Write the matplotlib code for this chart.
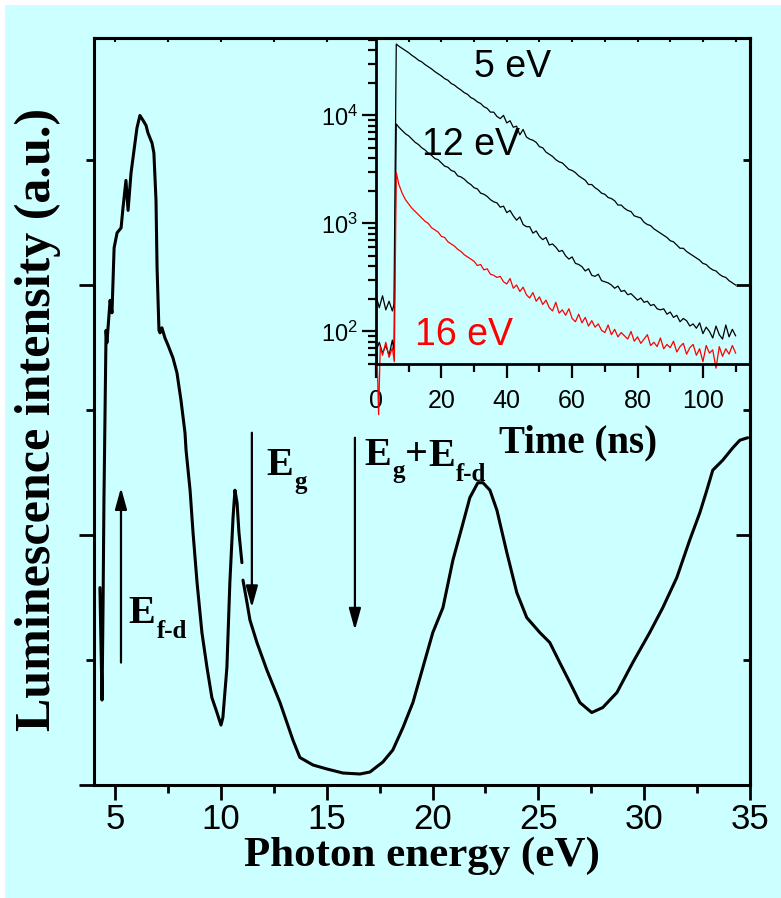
import numpy as np
import matplotlib
matplotlib.use('Agg')
import matplotlib.pyplot as plt
from matplotlib.patches import Rectangle
from matplotlib.ticker import NullFormatter, LogLocator

plt.rcParams['font.family'] = ['Liberation Sans', 'DejaVu Sans']
plt.rcParams['mathtext.fontset'] = 'custom'
plt.rcParams['mathtext.rm'] = 'Liberation Sans'

W, H = 781, 898

# ---------------- main spectrum (photon energy, eV / intensity, a.u.) ----------------
energy_a = [4.28, 4.38, 4.43, 4.47, 4.57, 4.61, 4.76, 4.85, 4.95, 5.09, 5.28, 5.37,
            5.51, 5.61, 5.75, 5.89, 6.03, 6.17, 6.32, 6.46, 6.55, 6.74, 6.83, 6.93,
            6.98, 7.07, 7.12, 7.21, 7.35, 7.50, 7.73, 7.92, 8.11, 8.30, 8.35, 8.54,
            8.68, 8.87, 9.10, 9.34, 9.57, 9.81, 10.00, 10.09, 10.28, 10.42, 10.57,
            10.66, 10.76, 10.85, 10.99]
intensity_a = [0.79, 0.34, 0.74, 1.14, 1.82, 1.77, 1.94, 1.89, 2.15, 2.21, 2.23, 2.31,
               2.42, 2.30, 2.45, 2.54, 2.63, 2.68, 2.66, 2.64, 2.61, 2.57, 2.53, 2.34,
               2.07, 1.82, 1.81, 1.83, 1.79, 1.76, 1.71, 1.65, 1.54, 1.41, 1.34, 1.18,
               1.01, 0.81, 0.61, 0.47, 0.35, 0.29, 0.24, 0.27, 0.47, 0.81, 1.07,
               1.18, 1.13, 1.01, 0.89]
energy_b = [11.04, 11.23, 11.37, 11.70, 12.17, 12.79, 13.40, 13.73, 14.35, 15.01,
            15.76, 16.57, 17.04, 17.65, 18.12, 18.60, 19.07, 20.01, 20.49, 20.96,
            21.38, 21.76, 22.14, 22.38, 22.71, 23.04, 23.51, 23.98, 24.45, 25.07,
            25.54, 26.01, 26.49, 26.96, 27.52, 28.04, 28.71, 29.46, 30.26, 30.88,
            31.54, 32.15, 32.63, 32.96, 33.24, 33.71, 34.19, 34.52, 34.89]
intensity_b = [0.82, 0.73, 0.66, 0.57, 0.46, 0.33, 0.18, 0.11, 0.08, 0.064,
               0.048, 0.044, 0.052, 0.092, 0.14, 0.23, 0.33, 0.61, 0.71, 0.90,
               1.03, 1.15, 1.21, 1.21, 1.18, 1.10, 0.93, 0.77, 0.67, 0.61,
               0.57, 0.49, 0.41, 0.33, 0.29, 0.31, 0.37, 0.49, 0.61, 0.71,
               0.83, 0.98, 1.09, 1.18, 1.26, 1.30, 1.35, 1.38, 1.39]
energy_ticks = [5, 10, 15, 20, 25, 30, 35]

# ---------------- inset decay curves (time, ns / log10 counts) ----------------
decay_time = list(range(7, 111))
t_pre_5 = [0.3, 1, 2, 3, 4, 5, 5.5, 6.2]
t_pre_12 = [0.3, 1, 2, 3, 4, 5, 5.5, 6.2]
t_pre_16 = [0.3, 0.8, 1.3, 2, 3, 4, 5, 5.6, 6.2]

log_pre_5 = [2.30, 2.22, 2.33, 2.20, 2.28, 2.19, 2.25, 4.66]
log_decay_5 = [4.64, 4.62, 4.60, 4.58, 4.555, 4.535, 4.51, 4.495, 4.47, 4.45,
               4.43, 4.405, 4.385, 4.365, 4.34, 4.325, 4.295, 4.28, 4.255, 4.235,
               4.21, 4.195, 4.165, 4.15, 4.125, 4.11, 4.08, 4.065, 4.03, 4.03,
               3.99, 3.97, 4.00, 3.93, 3.95, 3.89, 3.90, 3.82, 3.87, 3.80,
               3.78, 3.77, 3.75, 3.71, 3.70, 3.66, 3.64, 3.62, 3.59, 3.57,
               3.56, 3.53, 3.50, 3.49, 3.47, 3.44, 3.42, 3.40, 3.36, 3.36,
               3.33, 3.31, 3.28, 3.27, 3.24, 3.23, 3.21, 3.17, 3.17, 3.14,
               3.12, 3.11, 3.07, 3.06, 3.05, 3.01, 2.99, 2.98, 2.95, 2.93,
               2.91, 2.89, 2.87, 2.84, 2.83, 2.80, 2.77, 2.77, 2.74, 2.72,
               2.70, 2.68, 2.66, 2.63, 2.62, 2.59, 2.57, 2.56, 2.53, 2.51,
               2.50, 2.47, 2.45, 2.43]

log_pre_12 = [1.84, 1.90, 1.80, 1.87, 1.78, 1.92, 1.82, 3.92]
log_decay_12 = [3.89, 3.86, 3.83, 3.81, 3.78, 3.75, 3.73, 3.70, 3.68, 3.65,
                3.63, 3.60, 3.59, 3.56, 3.53, 3.52, 3.49, 3.48, 3.44, 3.43,
                3.41, 3.38, 3.36, 3.33, 3.32, 3.28, 3.27, 3.25, 3.22, 3.20,
                3.19, 3.15, 3.16, 3.10, 3.12, 3.07, 3.03, 3.06, 2.99, 2.97,
                2.97, 2.91, 2.93, 2.88, 2.85, 2.87, 2.80, 2.81, 2.78, 2.74,
                2.75, 2.70, 2.67, 2.69, 2.63, 2.62, 2.60, 2.56, 2.58, 2.52,
                2.51, 2.53, 2.47, 2.46, 2.45, 2.43, 2.40, 2.42, 2.37, 2.38,
                2.34, 2.35, 2.32, 2.29, 2.31, 2.27, 2.28, 2.24, 2.25, 2.21,
                2.20, 2.21, 2.16, 2.18, 2.13, 2.15, 2.09, 2.12, 2.10, 2.05,
                2.07, 2.03, 2.08, 1.98, 2.04, 2.00, 1.94, 2.05, 1.97, 1.93,
                2.06, 1.95, 2.02, 1.96]

log_pre_16 = [1.80, 1.23, 1.86, 1.78, 1.90, 1.76, 1.85, 1.72, 3.47]
log_decay_16 = [3.36, 3.28, 3.22, 3.18, 3.14, 3.11, 3.08, 3.05, 3.02, 3.00,
                2.96, 2.94, 2.92, 2.88, 2.87, 2.83, 2.81, 2.79, 2.76, 2.74,
                2.71, 2.69, 2.67, 2.65, 2.61, 2.62, 2.57, 2.58, 2.53, 2.52,
                2.50, 2.51, 2.46, 2.44, 2.49, 2.40, 2.43, 2.37, 2.41, 2.34,
                2.31, 2.36, 2.28, 2.32, 2.25, 2.29, 2.22, 2.19, 2.27, 2.17,
                2.20, 2.15, 2.21, 2.12, 2.09, 2.16, 2.08, 2.13, 2.05, 2.10,
                2.04, 2.07, 2.01, 1.99, 2.06, 1.97, 2.02, 1.95, 1.99, 1.96,
                1.93, 2.00, 1.91, 1.95, 1.89, 1.93, 1.97, 1.87, 1.90, 1.86,
                1.94, 1.84, 1.88, 1.85, 1.91, 1.81, 1.86, 1.89, 1.79, 1.85,
                1.88, 1.78, 1.84, 1.72, 1.87, 1.80, 1.83, 1.66, 1.86, 1.77,
                1.84, 1.79, 1.87, 1.80]
time_ticks = [0, 20, 40, 60, 80, 100]

CYAN = '#CCFFFF'
SERIF_B = dict(family='Liberation Serif', weight='bold')

fig = plt.figure(figsize=(W / 100, H / 100), dpi=100)
fig.patch.set_facecolor('white')
fig.add_artist(Rectangle((5 / W, 0), 1 - 5 / W, 1 - 5 / H, transform=fig.transFigure,
                         facecolor=CYAN, edgecolor='none', zorder=-10))


def px(x, y):
    return x / W, 1 - y / H


# ---------------- main axes ----------------
ax = fig.add_axes([94 / W, 1 - 785 / H, (750 - 94) / W, (785 - 38) / H])
ax.set_facecolor('none')
ax.plot(energy_a, intensity_a, color='black', lw=2.2, solid_joinstyle='round', solid_capstyle='round')
ax.plot(energy_b, intensity_b, color='black', lw=2.2, solid_joinstyle='round', solid_capstyle='round')
ax.set_xlim(4, 35)
ax.set_ylim(0, 2.99)
ax.set_xticks(energy_ticks)
ax.set_xticks([7.5, 12.5, 17.5, 22.5, 27.5, 32.5], minor=True)
ax.set_yticks([0, 1, 2])
ax.set_yticks([0.5, 1.5, 2.5], minor=True)
ax.yaxis.set_major_formatter(NullFormatter())
for s in ax.spines.values():
    s.set_linewidth(2.2)
ax.tick_params(which='both', direction='out', width=2, top=False, right=False)
ax.tick_params(which='major', length=11)
ax.tick_params(which='minor', length=6)
ax.tick_params(axis='x', labelsize=25, pad=2)
for lbl in ax.get_xticklabels():
    lbl.set_family(['Liberation Sans Narrow', 'Liberation Sans'])
ax.set_xlabel('Photon energy (eV)', fontsize=31, labelpad=0, **SERIF_B)
ax.set_ylabel('Luminescence intensity (a.u.)', fontsize=36, labelpad=10, **SERIF_B)
ax.yaxis.set_label_coords(-0.05, 0.49)

sec_r = ax.secondary_yaxis('right')
sec_r.set_yticks([1, 2])
sec_r.set_yticks([0.5, 1.5, 2.5], minor=True)
sec_r.yaxis.set_major_formatter(NullFormatter())
sec_r.tick_params(which='both', direction='in', width=2)
sec_r.tick_params(which='major', length=10)
sec_r.tick_params(which='minor', length=5)
sec_r.spines['right'].set_linewidth(2.2)

sec_t = ax.secondary_xaxis('top')
sec_t.set_xticks([5, 7.5, 10, 12.5, 15])
sec_t.xaxis.set_major_formatter(NullFormatter())
sec_t.tick_params(which='both', direction='in', width=1.5, length=3)
sec_t.spines['top'].set_linewidth(2.2)

# arrows
arrow_kw = dict(arrowstyle='-|>,head_length=0.65,head_width=0.18', mutation_scale=20,
                lw=1.6, color='black', shrinkA=0, shrinkB=0)
ax.annotate('', xy=(5.275, 1.19), xytext=(5.275, 0.49), arrowprops=arrow_kw)
ax.annotate('', xy=(11.46, 0.71), xytext=(11.46, 1.41), arrowprops=arrow_kw)
ax.annotate('', xy=(16.33, 0.62), xytext=(16.33, 1.39), arrowprops=arrow_kw)

big = dict(fontsize=29, ha='left', va='baseline', **SERIF_B)
small = dict(fontsize=18, ha='left', va='baseline', **SERIF_B)
fig.text(*px(128, 623), 'E', **big)
fig.text(*px(157, 638), 'f-d', **small)
fig.text(*px(266, 475), 'E', **big)
fig.text(*px(294, 489), 'g', **small)
fig.text(*px(364, 465), 'E', **big)
fig.text(*px(392, 478), 'g', **small)
fig.text(*px(405, 465), '+', **big)
fig.text(*px(428, 466), 'E', **big)
fig.text(*px(456, 481), 'f-d', **small)

# ---------------- inset ----------------
ins = fig.add_axes([376 / W, 1 - 364 / H, (750 - 376) / W, (364 - 38) / H])
ins.set_facecolor('none')
ins.set_yscale('log')
ins.plot(t_pre_5 + decay_time, 10 ** np.array(log_pre_5 + log_decay_5), color='black', lw=0.9)
ins.plot(t_pre_12 + decay_time, 10 ** np.array(log_pre_12 + log_decay_12), color='black', lw=0.9)
ins.plot(t_pre_16 + decay_time, 10 ** np.array(log_pre_16 + log_decay_16), color='#FF0000', lw=0.9,
         clip_on=False)
ins.set_xlim(0, 114.4)
ins.set_ylim(50, 52000)
ins.set_xticks(time_ticks)
ins.set_xticks([10, 30, 50, 70, 90, 110], minor=True)
ins.yaxis.set_major_locator(LogLocator(base=10, numticks=10))
ins.yaxis.set_minor_locator(LogLocator(base=10, subs=np.arange(2, 10), numticks=20))
for s in ins.spines.values():
    s.set_linewidth(2)
ins.tick_params(which='both', direction='out', width=1.6, top=False, right=False)
ins.tick_params(which='major', length=10)
ins.tick_params(which='minor', length=5.5)
ins.tick_params(axis='x', labelsize=18, pad=8)
ins.tick_params(axis='y', labelsize=17, pad=3)
ins.set_xlabel('Time (ns)', fontsize=28, **SERIF_B)
ins.xaxis.set_label_coords(0.54, -0.185)

ins_t = ins.secondary_xaxis('top')
ins_t.set_xticks([10, 20, 30, 40, 50, 60, 70, 80, 90, 100, 110])
ins_t.xaxis.set_major_formatter(NullFormatter())
ins_t.tick_params(which='both', direction='in', width=1.5, length=3)
ins_t.spines['top'].set_linewidth(2)

lab = dict(fontsize=27, ha='center', va='center')
fig.text(*px(513, 67), '5 eV', color='black', **lab)
fig.text(*px(471, 145), '12 eV', color='black', **lab)
fig.text(*px(464, 335), '16 eV', color='#FF0000', **lab)

fig.savefig('out.png', dpi=100, facecolor=fig.get_facecolor())
